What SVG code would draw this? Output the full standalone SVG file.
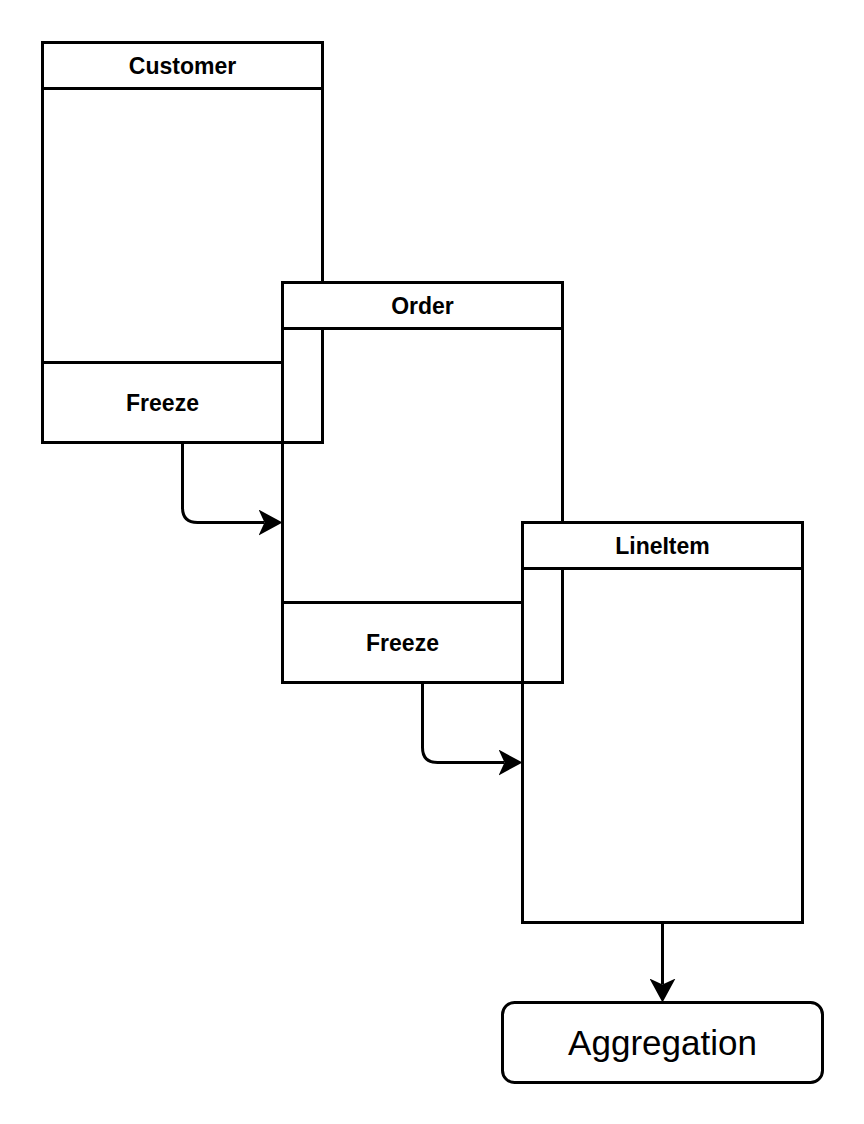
<svg xmlns="http://www.w3.org/2000/svg" width="864" height="1124" viewBox="0 0 864 1124">
<style>
.box{fill:none;stroke:#000;stroke-width:3}
.hdr{fill:#fff;stroke:#000;stroke-width:3}
.t{font-family:"Liberation Sans",Arial,sans-serif;font-weight:bold;font-size:23px;text-anchor:middle;fill:#000}
.big{font-family:"Liberation Sans",Arial,sans-serif;font-size:35px;text-anchor:middle;fill:#000}
.conn{stroke:#000;stroke-width:3;fill:none;stroke-linejoin:round}
</style>
<defs>
<marker id="arr" markerUnits="userSpaceOnUse" viewBox="0 0 24 26" markerWidth="24" markerHeight="26" refX="6" refY="13" orient="auto">
<path d="M0,0 L24,13 L0,26 L6,13 Z" fill="#000"/>
</marker>
</defs>
<rect width="864" height="1124" fill="#fff"/>
<g id="customer">
<rect class="box" x="42.5" y="42.5" width="280" height="400"/>
<rect class="hdr" x="42.5" y="42.5" width="280" height="46"/>
<rect class="box" x="42.5" y="362.5" width="240" height="80"/>
<text class="t" x="182.5" y="74">Customer</text>
<text class="t" x="162.5" y="410.5">Freeze</text>
</g>
<g id="order">
<rect class="box" x="282.5" y="282.5" width="280" height="400"/>
<rect class="hdr" x="282.5" y="282.5" width="280" height="46"/>
<rect class="box" x="282.5" y="602.5" width="240" height="80"/>
<text class="t" x="422.5" y="314">Order</text>
<text class="t" x="402.5" y="650.5">Freeze</text>
</g>
<g id="lineitem">
<rect class="box" x="522.5" y="522.5" width="280" height="400"/>
<rect class="hdr" x="522.5" y="522.5" width="280" height="46"/>
<text class="t" x="662.5" y="554">LineItem</text>
</g>
<g id="aggregation">
<rect class="box" x="502.5" y="1002.5" width="320" height="80" rx="12" ry="12"/>
<text class="big" x="662.5" y="1054.5">Aggregation</text>
</g>
<g id="connectors">
<path class="conn" d="M182.5,442.5 L182.5,507.5 Q182.5,522.5 197.5,522.5 L264.5,522.5" marker-end="url(#arr)"/>
<path class="conn" d="M422.5,682.5 L422.5,747.5 Q422.5,762.5 437.5,762.5 L504.5,762.5" marker-end="url(#arr)"/>
<path class="conn" d="M662.5,922.5 L662.5,984.5" marker-end="url(#arr)"/>
</g>
</svg>
